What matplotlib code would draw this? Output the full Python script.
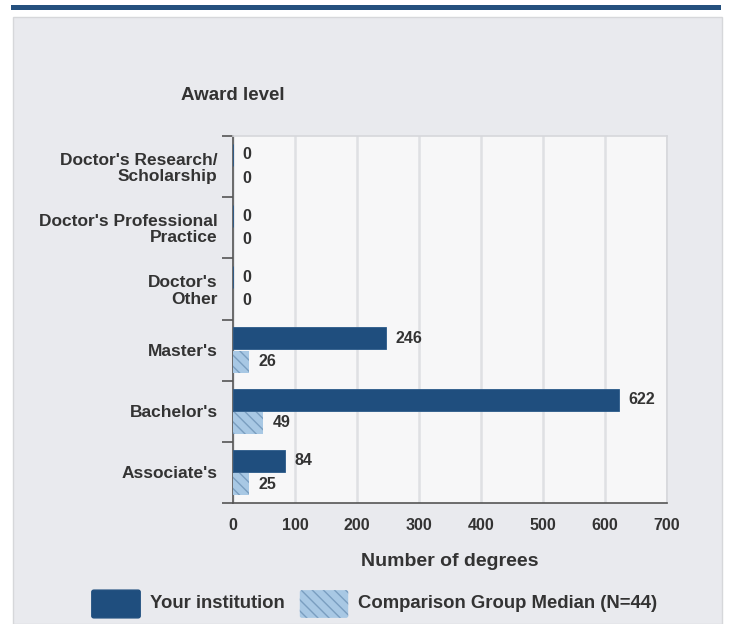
import matplotlib
matplotlib.use("Agg")
import matplotlib.pyplot as plt
from matplotlib.patches import Rectangle, FancyBboxPatch
import numpy as np

plt.rcParams['font.family'] = ['Liberation Sans', 'DejaVu Sans']
plt.rcParams['hatch.linewidth'] = 1.0

categories = ["Doctor's Research/\nScholarship", "Doctor's Professional\nPractice",
              "Doctor's\nOther", "Master's", "Bachelor's", "Associate's"]
your_inst = [0, 0, 0, 246, 622, 84]
comparison = [0, 0, 0, 26, 49, 25]
xticks = [0, 100, 200, 300, 400, 500, 600, 700]

W, H = 731, 624
fig = plt.figure(figsize=(W / 100, H / 100), dpi=100)
fig.patch.set_facecolor('white')

def fx(px): return px / W
def fy(py): return 1 - py / H

# top bar
fig.patches.append(Rectangle((fx(11), fy(10)), fx(721) - fx(11), fy(5) - fy(10),
                             transform=fig.transFigure, facecolor='#25507e', edgecolor='none',
                             zorder=-10))
# panel
fig.patches.append(Rectangle((fx(13), fy(624)), fx(722) - fx(13), fy(17) - fy(624),
                             transform=fig.transFigure, facecolor='#e9eaee', edgecolor='#d6d7da', lw=1,
                             zorder=-10))

ax = fig.add_axes([fx(233), fy(503), fx(667) - fx(233), fy(136) - fy(503)])
ax.set_facecolor('#f7f7f8')

dark = '#1f4e7e'
light = '#a8c8e4'
hatch_col = '#7a9ec0'
y = np.arange(len(categories))
h = 0.36
off = 0.19
ax.barh(y - off, your_inst, height=h, color=dark, edgecolor='#2a5a8a', lw=0.6, zorder=3)
ax.barh(y + off, comparison, height=h, color=light, edgecolor=hatch_col, hatch='\\\\\\', lw=0, zorder=3)

for i in range(len(categories)):
    ax.annotate(str(your_inst[i]), (your_inst[i], y[i] - off), xytext=(7, 0),
                textcoords='offset points', va='center', ha='left',
                fontsize=11.5, fontweight='bold', color='#333333')
    ax.annotate(str(comparison[i]), (comparison[i], y[i] + off), xytext=(7, 0),
                textcoords='offset points', va='center', ha='left',
                fontsize=11.5, fontweight='bold', color='#333333')

ax.set_xlim(0, 700)
ax.set_ylim(len(categories) - 0.5, -0.5)
ax.set_xticks(xticks)
ax.set_xticklabels([str(t) for t in xticks], fontsize=11.5, fontweight='bold', color='#333333')
ax.tick_params(axis='x', length=0, pad=10.5)
ax.grid(axis='x', color='#dfe0e3', lw=1.8, zorder=0)
ax.set_axisbelow(True)

ax.set_yticks(np.arange(len(categories) + 1) - 0.5, minor=False)
ax.set_yticklabels([''] * (len(categories) + 1))
ax.set_yticks(y, minor=True)
ax.set_yticklabels(categories, minor=True, fontsize=12.5, fontweight='bold', color='#333333',
                   linespacing=1.1)
ax.tick_params(axis='y', which='major', length=8, width=1.2, color='#555555')
ax.tick_params(axis='y', which='minor', length=0, pad=11)

for s in ['top', 'right']:
    ax.spines[s].set_color('#d6d7db')
    ax.spines[s].set_linewidth(1.2)
ax.spines['left'].set_color('#555555')
ax.spines['left'].set_linewidth(1.2)
ax.spines['bottom'].set_color('#555555')
ax.spines['bottom'].set_linewidth(1.2)

fig.text(fx(233), fy(96), 'Award level', ha='center', va='center',
         fontsize=13.5, fontweight='bold', color='#333333')
fig.text(fx(450), fy(561), 'Number of degrees', ha='center', va='center',
         fontsize=14, fontweight='bold', color='#333333')

# legend
fig.patches.append(FancyBboxPatch((fx(94), fy(616)), fx(138) - fx(94), fy(592) - fy(616),
                                  boxstyle='round,pad=0.003', transform=fig.transFigure,
                                  facecolor=dark, edgecolor=dark))
fig.patches.append(FancyBboxPatch((fx(302), fy(616)), fx(346) - fx(302), fy(592) - fy(616),
                                  boxstyle='round,pad=0.003', transform=fig.transFigure,
                                  facecolor=light, edgecolor=hatch_col, hatch='\\\\\\', lw=0))
fig.text(fx(150), fy(604), 'Your institution', ha='left', va='center',
         fontsize=13.3, fontweight='bold', color='#333333')
fig.text(fx(358), fy(604), 'Comparison Group Median (N=44)', ha='left', va='center',
         fontsize=13.3, fontweight='bold', color='#333333')

fig.savefig('out.png', dpi=100)
